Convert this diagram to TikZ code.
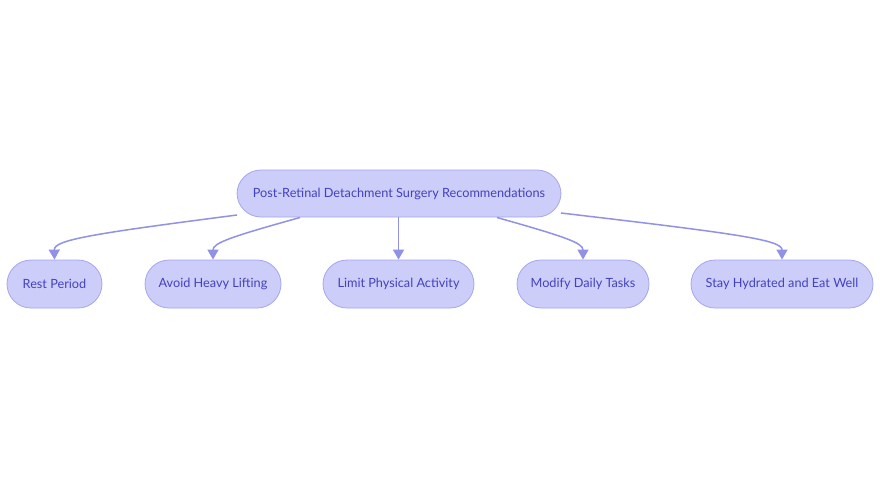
\documentclass[tikz,border=0pt]{standalone}
\usepackage{fontspec}
\setmainfont{Lato}
\usetikzlibrary{arrows.meta}
\definecolor{nodefill}{RGB}{205,205,250}
\definecolor{nodeborder}{RGB}{165,165,240}
\definecolor{nodetext}{RGB}{66,66,190}
\definecolor{edgecol}{RGB}{145,145,230}
\tikzset{
  pill/.style={draw=nodeborder, line width=0.8pt, fill=nodefill, rounded corners=24pt,
    text=nodetext, font=\fontsize{12.7}{15}\selectfont, inner sep=0pt, anchor=center},
  edge/.style={draw=edgecol, line width=1.5pt, -{Triangle[width=11pt,length=10pt]}}
}
\begin{document}
\begin{tikzpicture}[x=1pt,y=-1pt]
\useasboundingbox (0,0) rectangle (880,480);
\node[pill, minimum width=324pt, minimum height=47pt] (root) at (399,193.5) {Post-Retinal Detachment Surgery Recommendations};
\node[pill, minimum width=95pt, minimum height=48pt] (rest) at (54.5,284) {Rest Period};
\node[pill, minimum width=136pt, minimum height=48pt] (avoid) at (213,284) {Avoid Heavy Lifting};
\node[pill, minimum width=151pt, minimum height=48pt] (limit) at (398.5,284) {Limit Physical Activity};
\node[pill, minimum width=132pt, minimum height=48pt] (modify) at (583,284) {Modify Daily Tasks};
\node[pill, minimum width=182pt, minimum height=48pt] (stay) at (782,284) {Stay Hydrated and Eat Well};
\coordinate (r1) at (237,215);
\coordinate (r2) at (300,217.5);
\coordinate (r4) at (497,217.5);
\coordinate (r5) at (561,213);
\draw[edge] (r1) .. controls (90,234) and (54,240) .. (rest.north);
\draw[edge] (r2) .. controls (230,237) and (213,243) .. (avoid.north);
\draw[edge] (limit.north |- root.south) -- (limit.north);
\draw[edge] (r4) .. controls (566,237) and (583,243) .. (modify.north);
\draw[edge] (r5) .. controls (740,234) and (782,240) .. (stay.north);
\end{tikzpicture}
\end{document}
